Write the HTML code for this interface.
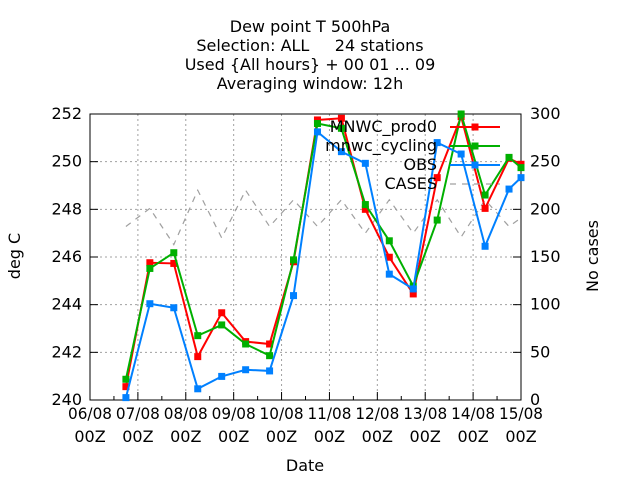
<!DOCTYPE html>
<html><head><meta charset="utf-8"><style>
body{margin:0;background:#fff}
svg text{font-family:"DejaVu Sans","Liberation Sans",sans-serif;font-size:14.5px;fill:#000;white-space:pre}
svg text.big{font-size:16px}
</style></head><body>
<svg id="chart" width="640" height="480">
<g id="title">
<text class="big" x="310" y="32" text-anchor="middle">Dew point T 500hPa</text>
<text class="big" x="310" y="51" text-anchor="middle" xml:space="preserve">Selection: ALL     24 stations</text>
<text class="big" x="310" y="70" text-anchor="middle">Used {All hours} + 00 01 ... 09</text>
<text class="big" x="310" y="89" text-anchor="middle">Averaging window: 12h</text>
</g>
<g id="grid"></g>
<g id="axes"></g>
<g id="series"></g>
<g id="legend"></g>
<text class="big" x="20" y="256" text-anchor="middle" transform="rotate(-90 20 256)">deg C</text>
<text class="big" x="598" y="256" text-anchor="middle" transform="rotate(-90 598 256)">No cases</text>
<text class="big" x="305" y="471" text-anchor="middle">Date</text>
</svg>
<script>
const times=[0.75,1.25,1.75,2.25,2.75,3.25,3.75,4.25,4.75,5.25,5.75,6.25,6.75,7.25,7.75,8.25,8.75,9.0];
const prod0=[240.56,245.76,245.73,241.82,243.66,242.45,242.35,245.8,251.75,251.82,248.0,245.99,244.45,249.33,251.89,248.04,250.14,249.89];
const cycling=[240.87,245.52,246.18,242.7,243.15,242.35,241.86,245.88,251.6,251.4,248.2,246.68,244.78,247.55,252.0,248.6,250.18,249.75];
const obs=[240.1,244.04,243.87,240.47,240.99,241.27,241.22,244.38,251.25,250.42,249.93,245.28,244.66,250.8,250.32,246.45,248.85,249.33];
const cases=[182,201,163,220,170,220,182,210,182,210,175,210,175,210,171,210,182,191];
const xLabels=["06/08","07/08","08/08","09/08","10/08","11/08","12/08","13/08","14/08","15/08"];
const yTicks=[240,242,244,246,248,250,252];
const y2Ticks=[0,50,100,150,200,250,300];
const L=90,R=521,T=114,B=400;
const X=t=>L+(R-L)*t/9;
const Y=v=>B-(B-T)*(v-240)/12;
const Y2=v=>B-(B-T)*v/300;
const NS="http://www.w3.org/2000/svg";
function mk(tag,attrs,parent){const e=document.createElementNS(NS,tag);for(const k in attrs)e.setAttribute(k,attrs[k]);parent.appendChild(e);return e;}
const grid=document.getElementById('grid'),axes=document.getElementById('axes'),ser=document.getElementById('series'),leg=document.getElementById('legend');
yTicks.forEach((v,i)=>{
  if(i>0&&i<yTicks.length-1){const g=mk('line',{x1:L,x2:R,y1:Y(v),y2:Y(v),stroke:'#a0a0a0','stroke-dasharray':'2,3'},grid);
  
  }
  const tk=mk('line',{x1:L,x2:L+8,y1:Y(v),y2:Y(v),stroke:'#000'},axes);
  
  
  const t=mk('text',{x:L-8,y:Y(v)+5,'text-anchor':'end',class:'big'},axes);t.textContent=v;
  
  
});
y2Ticks.forEach(v=>{
  const tk=mk('line',{x1:R-8,x2:R,y1:Y2(v),y2:Y2(v),stroke:'#000'},axes);
  
  
  const t=mk('text',{x:R+9,y:Y2(v)+5,class:'big'},axes);t.textContent=v;
  
  
});
xLabels.forEach((s,i)=>{
  if(i>0&&i<xLabels.length-1){const g=mk('line',{x1:X(i),x2:X(i),y1:T,y2:B,stroke:'#a0a0a0','stroke-dasharray':'2,3'},grid);
  
  }
  const tk=mk('line',{x1:X(i),x2:X(i),y1:B-8,y2:B,stroke:'#000'},axes);
  
  
  if(i<9){const m=mk('line',{x1:X(i+0.5),x2:X(i+0.5),y1:B-4,y2:B,stroke:'#000'},axes);
  
  }
  const t=mk('text',{x:X(i),y:419,'text-anchor':'middle','textLength':44,'lengthAdjust':'spacingAndGlyphs',class:'big'},axes);t.textContent=s;
  
  
  const t2=mk('text',{x:X(i),y:442,'text-anchor':'middle',class:'big'},axes);t2.textContent='00Z';
  
  
});
const fr=mk('rect',{x:L,y:T,width:R-L,height:B-T,fill:'none',stroke:'#000','stroke-width':1},axes);


const cp=mk('polyline',{points:times.map((t,i)=>X(t)+','+Y2(cases[i])).join(' '),fill:'none',stroke:'#a0a0a0','stroke-width':1.2,'stroke-dasharray':'6,6'},ser);


const S=[['MNWC_prod0',prod0,'#ff0000'],['mnwc_cycling',cycling,'#00b000'],['OBS',obs,'#0080ff']];
S.forEach(([n,d,c])=>{
  const p=mk('polyline',{points:times.map((t,i)=>X(t)+','+Y(d[i])).join(' '),fill:'none',stroke:c,'stroke-width':2},ser);
  
  
  times.forEach((t,i)=>{const m=mk('rect',{x:X(t)-3.5,y:Y(d[i])-3.5,width:7,height:7,fill:c},ser);
    
    });
});
const legRows=[['MNWC_prod0','#ff0000',127,false],['mnwc_cycling','#00b000',146,false],['OBS','#0080ff',165,false],['CASES','#a0a0a0',184,true]];
legRows.forEach(([n,c,y,dash])=>{
  const t=mk('text',{x:437,y:y+5,'text-anchor':'end',class:'big'},leg);t.textContent=n;
  
  
  const l=mk('line',{x1:450,x2:500,y1:y,y2:y,stroke:c,'stroke-width':dash?1.2:2,'stroke-dasharray':dash?'6,6':'none'},leg);
  
  
  if(!dash){const m=mk('rect',{x:471.5,y:y-3.5,width:7,height:7,fill:c},leg);
  
  }
});
</script>
</body></html>
